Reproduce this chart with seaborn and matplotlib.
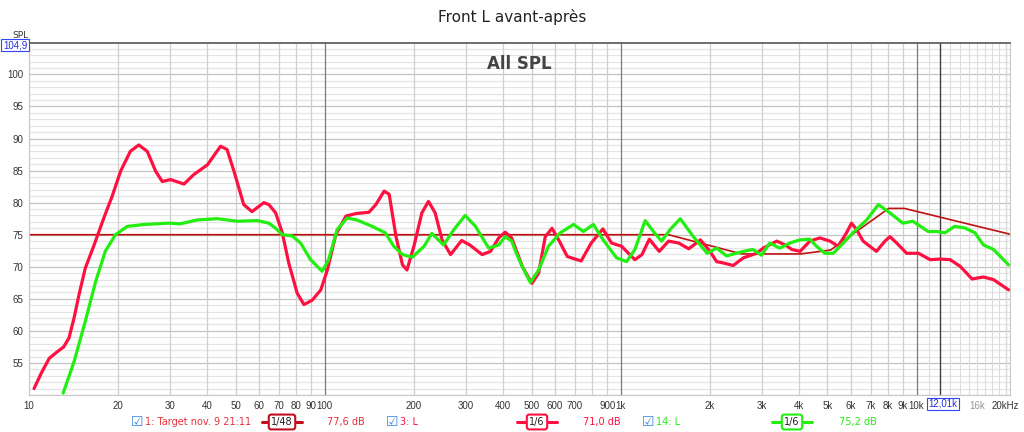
import matplotlib
matplotlib.use('Agg')

import numpy as np
import pandas as pd
import matplotlib.pyplot as plt
import seaborn as sns

# target curve (house curve)
target_freq = [10, 1452, 2563, 4055, 5120, 8050, 9100, 20600]
target_db = [75, 75, 72, 72, 72.6, 79.1, 79.1, 75.1]

# 3: L (before, red)
red_freq = [10.4, 11.0, 11.7, 12.5, 13.1, 13.65, 14.2, 14.75, 15.5, 16.6, 17.9, 19.1, 20.4, 22.0,
            23.5, 25.1, 26.8, 28.2, 30.1, 33.4, 36.1, 40.1, 44.4, 46.7, 49.3, 53.2, 56.7, 62.2,
            64.7, 68.2, 71.8, 75.5, 80.6, 85.0, 90.7, 96.9, 102, 108.9, 117.8, 127.3, 141, 148.7,
            158.7, 165, 174, 183, 189.5, 200, 212.8, 224, 236, 249, 266, 290, 309, 340, 363, 387,
            407, 428, 450, 465, 501, 528, 556, 586, 617, 660, 735, 795, 871, 931, 1007, 1047, 1117,
            1180, 1250, 1350, 1452, 1571, 1698, 1860, 2005, 2110, 2220, 2400, 2600, 2880, 3030,
            3370, 3600, 3790, 4040, 4360, 4710, 5100, 5430, 5800, 6030, 6270, 6600, 7320, 7820,
            8130, 8570, 9260, 10160, 11120, 12020, 13000, 14060, 15400, 16840, 18200, 20470]
red_db = [51.0, 53.4, 55.7, 56.8, 57.5, 58.9, 62.0, 65.6, 69.8, 73.4, 77.6, 81.0, 84.9, 88.0,
          89.0, 88.0, 84.9, 83.3, 83.6, 82.9, 84.4, 85.9, 88.8, 88.3, 84.9, 79.7, 78.6, 80.0,
          79.7, 78.4, 75.3, 70.6, 65.9, 64.1, 64.8, 66.4, 69.5, 75.0, 77.9, 78.3, 78.5, 79.7,
          81.8, 81.3, 74.7, 70.3, 69.5, 73.2, 78.4, 80.2, 78.4, 74.2, 71.9, 74.1, 73.4, 71.9, 72.4,
          74.5, 75.4, 74.5, 71.8, 70.05, 67.4, 69.0, 74.7, 76.0, 74.2, 71.6, 70.9, 73.7, 75.9,
          73.7, 73.2, 72.4, 71.1, 71.9, 74.3, 72.4, 74.0, 73.7, 72.8, 74.2, 72.4, 70.8, 70.6,
          70.2, 71.4, 72.1, 72.9, 74.0, 73.4, 72.7, 72.4, 74.0, 74.5, 74.0, 73.2, 75.3, 76.8,
          75.8, 74.0, 72.4, 74.0, 74.7, 73.7, 72.1, 72.1, 71.1, 71.2, 71.1, 70.05, 68.1, 68.4,
          68.0, 66.4]

# 14: L (after, green)
green_freq = [13.05, 14.2, 15.5, 16.8, 18.1, 19.6, 21.5, 24.5, 29.7, 32.5, 37.0, 43.3, 50.5, 59.0,
              64.7, 68.2, 71.8, 77.6, 82.8, 89.5, 97.9, 103, 110, 119, 128.3, 144.6, 160, 171, 183,
              197.6, 216.5, 230, 252, 273, 298, 323, 358, 387, 407, 428, 445, 465, 495, 528, 570,
              625, 693, 748, 808, 872, 968, 1047, 1117, 1210, 1290, 1375, 1469, 1590, 1760, 1960,
              2110, 2280, 2600, 2800, 2990, 3190, 3450, 3730, 4040, 4360, 4590, 4900, 5230, 5650,
              6100, 6780, 7430, 8130, 8990, 9720, 10950, 11680, 12470, 13460, 14580, 15750, 16840,
              18200, 20470]
green_db = [50.3, 55.2, 61.5, 67.7, 72.4, 75.0, 76.3, 76.6, 76.8, 76.7, 77.3, 77.5, 77.1, 77.2,
            76.8, 76.0, 75.0, 74.8, 73.7, 71.1, 69.3, 71.1, 75.8, 77.6, 77.3, 76.3, 75.3, 73.2, 71.9,
            71.5, 73.2, 75.2, 73.4, 75.8, 78.0, 76.3, 72.9, 73.4, 74.7, 74.0, 72.0, 70.0, 67.55,
            69.5, 73.2, 75.3, 76.6, 75.5, 76.6, 74.2, 71.4, 70.8, 72.7, 77.2, 75.5, 74.0, 75.8,
            77.5, 74.7, 72.1, 72.9, 71.7, 72.4, 72.7, 71.8, 73.7, 72.9, 73.7, 74.2, 74.3, 73.2,
            72.1, 72.1, 73.7, 75.3, 77.3, 79.7, 78.4, 76.8, 77.1, 75.5, 75.5, 75.3, 76.3, 76.05,
            75.3, 73.4, 72.7, 70.3]

xtick_vals = [10, 20, 30, 40, 50, 60, 70, 80, 90, 100, 200, 300, 400, 500, 600, 700, 900, 1000,
              2000, 3000, 4000, 5000, 6000, 7000, 8000, 9000, 10000, 16000, 20000]
xtick_labels = ['10', '20', '30', '40', '50', '60', '70', '80', '90', '100', '200', '300', '400',
                '500', '600', '700', '900', '1k', '2k', '3k', '4k', '5k', '6k', '7k', '8k', '9k',
                '10k', '16k', '20kHz']
ytick_vals = [55, 60, 65, 70, 75, 80, 85, 90, 95, 100]

RED = '#ff1040'
GREEN = '#22ee11'
TARGET = '#c01010'

sns.set_style('white')
plt.rcParams['font.family'] = ['DejaVu Sans']

fig = plt.figure(figsize=(10.24, 4.32), dpi=100)
ax = fig.add_axes([29 / 1024, 1 - 395 / 432, 981 / 1024, 352 / 432])

# grid
for y in range(50, 105):
    col = '#c4c4c4' if y % 5 == 0 else '#e4e4e4'
    ax.axhline(y, color=col, lw=0.9, zorder=0)
for dec in [10, 100, 1000, 10000]:
    for m in range(1, 10):
        f = dec * m
        if f > 21000:
            continue
        major = m == 1 and dec > 10
        ax.axvline(f, color='#7a7a7a' if major else '#cfcfcf', lw=0.9, zorder=1 if major else 0.5)
for f in range(11000, 21000, 1000):
    ax.axvline(f, color='#dcdcdc', lw=0.8, zorder=0.5)
ax.axvline(12010, color='#404040', lw=1.0, zorder=1)

sns.lineplot(x=target_freq, y=target_db, ax=ax, color=TARGET, lw=1.2, sort=False,
             estimator=None, zorder=2)
sns.lineplot(x=red_freq, y=red_db, ax=ax, color=RED, lw=2.3, sort=False, estimator=None,
             zorder=3, solid_joinstyle='round', solid_capstyle='round')
sns.lineplot(x=green_freq, y=green_db, ax=ax, color=GREEN, lw=2.3, sort=False, estimator=None,
             zorder=4, solid_joinstyle='round', solid_capstyle='round')

ax.set_xscale('log')
ax.set_xlim(10, 20700)
ax.set_ylim(50, 104.9)
ax.set_xticks(xtick_vals)
ax.set_xticklabels(xtick_labels, family=['Liberation Sans', 'DejaVu Sans'])
ax.xaxis.set_minor_locator(matplotlib.ticker.NullLocator())
ax.set_yticks(ytick_vals)
ax.set_yticklabels([str(v) for v in ytick_vals], family=['Liberation Sans', 'DejaVu Sans'])
ax.tick_params(axis='both', length=0, labelsize=7, labelcolor='#333333', pad=4)
for lab in ax.get_xticklabels():
    if lab.get_text() == '16k':
        lab.set_color('#999999')
for side in ['left', 'right', 'bottom']:
    ax.spines[side].set_color('#c8c8c8')
ax.spines['top'].set_color('#555555')
ax.spines['top'].set_linewidth(1.2)

# labels and annotations
fig.text(0.5, 1 - 17 / 432, 'Front L avant-après', ha='center', va='center', fontsize=11,
         color='#222222')
ax.text(0.5, 0.965, 'All SPL', transform=ax.transAxes, ha='center', va='top', fontsize=12,
        fontweight='bold', color='#444444')
fig.text(20 / 1024, 1 - 35 / 432, 'SPL', ha='center', va='center', fontsize=6.5, color='#333333')
fig.text(15 / 1024, 1 - 45 / 432, '104,9', ha='center', va='center', fontsize=7, color='#2233dd',
         family=['Liberation Sans', 'DejaVu Sans'],
         bbox=dict(boxstyle='square,pad=0.15', fc='white', ec='#3344ff', lw=0.8))
fig.text(943 / 1024, 1 - 404 / 432, '12,01k', ha='center', va='center', fontsize=7,
         color='#2233dd', family=['Liberation Sans', 'DejaVu Sans'],
         bbox=dict(boxstyle='square,pad=0.15', fc='white', ec='#3344ff', lw=0.8))

# legend row
ly = 1 - 422 / 432
items = [
    (137, '1: Target nov. 9 21:11', '#e8303a', 282, '1/48', '#c01020', 346, '77,6 dB'),
    (392, '3: L', RED, 537, '1/6', RED, 602, '71,0 dB'),
    (648, '14: L', GREEN, 792, '1/6', GREEN, 858, '75,2 dB'),
]
for bx, name, tcol, sx, sm, scol, dx, dbtxt in items:
    fig.text(bx / 1024, ly, '\u2611', ha='center', va='center', fontsize=10, color='#3a86e0')
    fig.text((bx + 8) / 1024, ly, name, ha='left', va='center', fontsize=7, color=tcol)
    fig.add_artist(plt.Line2D([(sx - 20) / 1024, (sx + 20) / 1024], [ly, ly], color=scol, lw=2.2))
    fig.text(sx / 1024, ly, sm, ha='center', va='center', fontsize=7, color='#222222',
             bbox=dict(boxstyle='round,pad=0.25', fc='white', ec=scol, lw=1.5))
    fig.text(dx / 1024, ly, dbtxt, ha='center', va='center', fontsize=7, color=tcol)

fig.savefig('out.png', dpi=100)
